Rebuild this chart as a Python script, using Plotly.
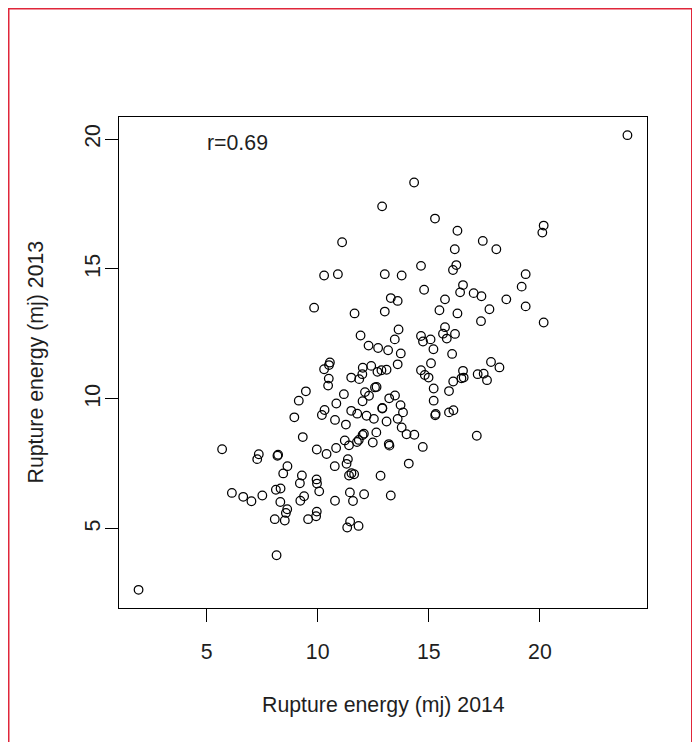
import plotly.graph_objects as go

# Rupture energy (mj) readings, 2014 (x) and 2013 (y)
energy_2014 = [12.90, 11.10, 10.29, 10.91, 13.02, 13.78, 13.29, 13.60, 9.84, 11.66, 13.02, 13.64, 13.47, 11.93, 12.29, 12.72, 13.17, 13.74,
               23.94, 14.34, 15.28, 16.29, 20.17, 20.11, 17.43, 18.04, 16.17, 14.65, 16.24, 16.09, 19.36, 19.18, 14.79, 16.54, 16.41, 17.02,
               17.37, 15.73, 18.49, 15.48, 16.29, 17.73, 19.36, 17.35, 20.17, 15.73, 15.64, 16.18, 15.81, 14.65, 14.74, 15.08, 15.21, 16.05,
               15.10, 14.65, 14.82, 14.99, 16.54, 16.47, 16.57, 16.10, 17.20, 17.47, 17.62, 17.80, 18.18, 15.22, 15.91, 15.22, 15.31, 15.29,
               15.91, 16.11, 13.60, 12.69, 12.87, 13.10,
               1.94, 8.15, 5.70, 7.35, 7.28, 8.19, 8.22, 8.64, 8.45, 6.14, 6.65, 7.02, 7.51, 8.12, 8.33, 8.32, 8.63, 8.57, 8.07, 8.52,
               9.29, 9.20, 9.95, 9.97, 10.07, 9.39, 9.22, 9.96, 9.93, 9.57, 10.78, 11.45, 11.59, 12.09, 13.29, 12.83, 11.46, 11.33, 11.84,
               11.52, 11.64, 11.41, 11.36, 11.30, 10.77, 10.40, 9.96, 10.83, 11.22, 11.41, 11.77, 11.85, 12.02, 12.08, 12.48, 12.64, 13.20,
               13.23, 14.10, 9.33, 8.95, 9.15, 9.47, 10.19, 10.31, 10.84, 11.18, 10.78, 11.27, 11.51, 11.78, 12.20, 12.53, 13.10, 12.02,
               12.13, 12.31, 12.58, 12.65, 12.91, 12.91, 13.22, 13.48, 13.60, 13.73, 13.84, 13.78, 14.00, 14.35, 10.29, 10.51, 10.55,
               10.50, 10.47, 11.51, 11.87, 12.03, 12.01, 12.41, 17.16, 14.73]

energy_2013 = [17.41, 16.03, 14.75, 14.80, 14.80, 14.75, 13.88, 13.77, 13.51, 13.29, 13.36, 12.67, 12.29, 12.44, 12.05, 11.96, 11.87, 11.75,
               20.15, 18.33, 16.94, 16.47, 16.67, 16.40, 16.08, 15.76, 15.76, 15.12, 15.15, 14.96, 14.80, 14.32, 14.20, 14.38, 14.10, 14.07,
               13.95, 13.83, 13.83, 13.41, 13.29, 13.45, 13.56, 12.99, 12.94, 12.76, 12.51, 12.50, 12.32, 12.42, 12.21, 12.29, 11.91, 11.73,
               11.37, 11.10, 10.92, 10.82, 11.08, 10.79, 10.82, 10.67, 10.95, 10.97, 10.72, 11.42, 11.21, 10.40, 10.30, 9.93, 9.42, 9.37,
               9.48, 9.56, 11.33, 11.04, 11.10, 11.12,
               2.65, 3.98, 8.06, 7.87, 7.68, 7.81, 7.85, 7.41, 7.13, 6.38, 6.23, 6.06, 6.28, 6.50, 6.55, 6.03, 5.75, 5.61, 5.37, 5.32,
               7.05, 6.75, 6.90, 6.74, 6.44, 6.25, 6.08, 5.66, 5.48, 5.37, 6.08, 6.40, 6.07, 6.33, 6.28, 7.04, 5.28, 5.05, 5.11,
               7.14, 7.10, 7.05, 7.68, 7.50, 7.41, 7.88, 8.05, 8.11, 8.40, 8.21, 8.34, 8.42, 8.61, 8.66, 8.32, 8.71, 8.26,
               8.20, 7.51, 8.53, 9.29, 9.93, 10.29, 9.38, 9.57, 9.82, 10.18, 9.19, 9.01, 9.54, 9.43, 9.35, 9.23, 9.13, 9.91,
               10.26, 10.12, 10.44, 10.46, 9.65, 9.63, 10.02, 10.13, 9.23, 9.76, 9.48, 8.90, 8.64, 8.62, 11.14, 11.30, 11.40,
               10.78, 10.51, 10.82, 10.76, 11.20, 10.95, 11.27, 8.58, 8.15]

tick_values = [5, 10, 15, 20]
tick_labels = ["5", "10", "15", "20"]
x_title = "Rupture energy (mj) 2014"
y_title = "Rupture energy (mj) 2013"
r_label = "r=0.69"

W, H = 700, 742
OFF = 8  # page body margin offset
L, R, T, B = 119 - OFF, 700 - 647 + OFF, 117 - OFF, 742 - 608 + OFF
FONT = "Liberation Sans, Arial, sans-serif"
FS = 21.3
INK = "#1e1e1e"


def r_range(vals):
    lo, hi = min(vals), max(vals)
    pad = 0.04 * (hi - lo)
    return [lo - pad, hi + pad]


fig = go.Figure()
fig.add_trace(go.Scatter(
    x=energy_2014, y=energy_2013, mode="markers",
    marker=dict(symbol="circle-open", size=8.6, color="black", line=dict(width=1.25, color="black")),
    hoverinfo="x+y", showlegend=False,
))

axis_common = dict(
    showgrid=False, zeroline=False, showline=True, mirror=True,
    linecolor="black", linewidth=1.3, ticks="outside", ticklen=13, tickwidth=1.3,
    tickcolor="black", tickvals=tick_values, ticktext=tick_labels,
    tickfont=dict(family=FONT, size=FS, color=INK),
)

fig.update_xaxes(range=r_range(energy_2014), ticklabelstandoff=11, **axis_common)
fig.update_yaxes(range=r_range(energy_2013), tickangle=-90, ticklabelstandoff=-4, **axis_common)

pw = W - L - R
ph = H - T - B
plot_bottom = T + ph  # in figure px

fig.update_layout(
    width=W, height=H,
    margin=dict(l=L, r=R, t=T, b=B, autoexpand=False),
    paper_bgcolor="white", plot_bgcolor="white",
    font=dict(family=FONT, size=FS, color=INK),
    annotations=[
        dict(text=x_title, xref="paper", yref="paper", x=0.5, y=0, xanchor="center", yanchor="middle",
             yshift=-((705 - OFF) - plot_bottom), showarrow=False, font=dict(family=FONT, size=FS, color=INK)),
        dict(text=y_title, xref="paper", yref="paper", x=0, y=0.5, xanchor="center", yanchor="middle",
             xshift=-(L - (35 - OFF)), textangle=-90, showarrow=False, font=dict(family=FONT, size=FS, color=INK)),
        dict(text=r_label, xref="x", yref="y", x=6.4, y=19.86, xanchor="center", yanchor="middle",
             showarrow=False, font=dict(family=FONT, size=FS, color=INK)),
    ],
    shapes=[
        dict(type="rect", xref="paper", yref="paper",
             x0=((8.5 - OFF) - L) / pw, x1=((692 - OFF) - L) / pw,
             y0=(plot_bottom - 760) / ph, y1=(plot_bottom - (8.5 - OFF)) / ph,
             line=dict(color="#E0263A", width=2), fillcolor="rgba(0,0,0,0)", layer="above"),
    ],
)

fig.write_html("out.html")
